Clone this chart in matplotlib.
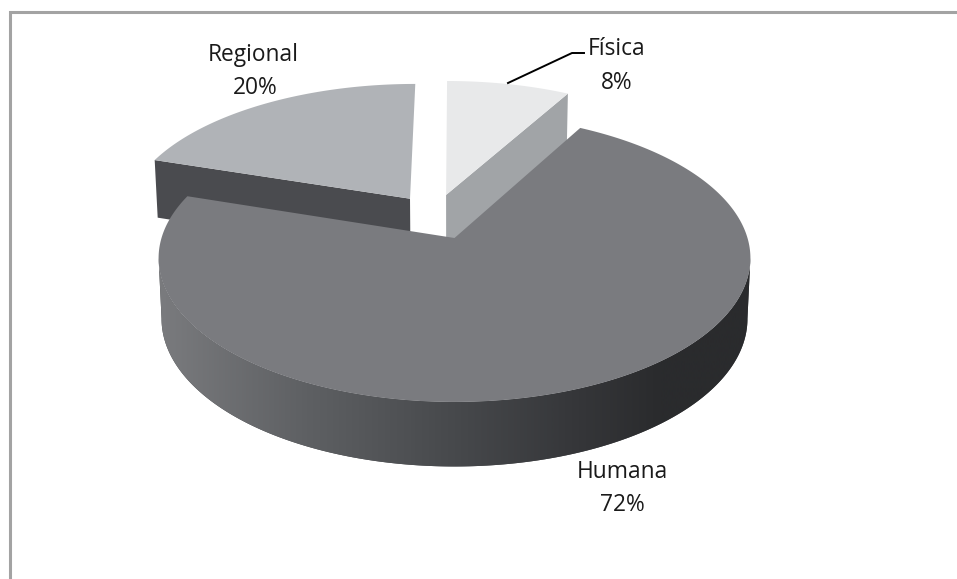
import numpy as np
import matplotlib
matplotlib.use("Agg")
import matplotlib.pyplot as plt
from matplotlib.colors import LinearSegmentedColormap

plt.rcParams['font.family'] = ['Open Sans', 'DejaVu Sans']

labels = ['Física', 'Humana', 'Regional']
shares = [8, 72, 20]

top_colors = ['#e8e9ea', '#7a7b7f', '#b0b3b7']
face_colors = ['#a1a4a7', None, '#4a4b4f']
# explosion of each slice in pie radii (sideways, backwards)
offsets = [(-0.03, 0.319), (0.0, 0.0), (-0.158, 0.29)]

CX, CY = 454.5, 238
RX, RY = 293, 141
PERSP = 0.14
DEPTH = 60
TAPER = 0.99

wall_cmap = LinearSegmentedColormap.from_list(
    'wall', [(0.0, '#7a7b7e'), (0.24, '#5f6164'), (0.5, '#47494c'),
             (0.7, '#36373a'), (0.85, '#2a2b2d'), (1.0, '#2a2b2d')])


def project(u, v):
    s = 1 / (1 + PERSP * v)
    return CX + RX * u * s, CY - RY * v * s


def drop(v):
    return DEPTH / (1 + 0.07 * v)


def taper(x):
    return CX + (x - CX) * TAPER


def slice_outline(start, stop, off):
    theta = np.radians(np.linspace(start, stop, 300))
    return off[0] + np.sin(theta), off[1] + np.cos(theta)


fig = plt.figure(figsize=(9.57, 5.79), dpi=100)
ax = fig.add_axes([0, 0, 1, 1])
ax.set_xlim(0, 957)
ax.set_ylim(579, 0)
ax.axis('off')

# frame of the chart area, only left and top are visible in the scan
ax.plot([9.5, 9.5, 957], [579, 11.5, 11.5], color='#a3a3a3', lw=2.2, solid_joinstyle='miter')

edges = np.cumsum([0] + shares) / sum(shares) * 360

# back slices first, the big one covers them
for i in [2, 0]:
    start, stop = edges[i], edges[i + 1]
    off = offsets[i]
    u, v = slice_outline(start, stop, off)
    x, y = project(u, v)
    ax_, ay = project(off[0], off[1])
    # flat cut face that looks to the viewer
    k = 0 if i == 2 else -1
    fx = [ax_, x[k], taper(x[k]), taper(ax_)]
    fy = [ay, y[k], y[k] + drop(v[k]), ay + drop(off[1])]
    ax.fill(fx, fy, color=face_colors[i], lw=0)
    ax.fill(np.r_[ax_, x], np.r_[ay, y], color=top_colors[i], lw=0)

# outer wall of Humana, shaded from left to right and clipped to the rim
u, v = slice_outline(70, 290, offsets[1])
x, y = project(u, v)
low_x, low_y = taper(x), y + drop(v)
right, left = np.argmax(x), np.argmin(x)
low_right, low_left = np.argmax(low_x), np.argmin(low_x)
rim_x = np.r_[x[right:left + 1], low_x[low_right:low_left + 1][::-1]]
rim_y = np.r_[y[right:left + 1], low_y[low_right:low_left + 1][::-1]]
rim = ax.fill(rim_x, rim_y, color='#47494c', lw=0, zorder=1)[0]
gradient = ax.imshow(np.linspace(0, 1, 600).reshape(1, -1), cmap=wall_cmap, aspect='auto',
                     extent=[158, 751, 579, 0], interpolation='bilinear', zorder=2)
gradient.set_clip_path(rim)
ax.set_xlim(0, 957)
ax.set_ylim(579, 0)

u, v = slice_outline(edges[1], edges[2], offsets[1])
x, y = project(u, v)
ax_, ay = project(*offsets[1])
ax.fill(np.r_[ax_, x], np.r_[ay, y], color=top_colors[1], lw=0, zorder=3)

# data labels
text_style = dict(ha='center', va='baseline', fontsize=16.4, color='#1a1a1a', zorder=4)
ax.text(253.5, 61, labels[2], **text_style)
ax.text(255, 94, f'{shares[2]}%', **text_style)
ax.text(622, 478, labels[1], **text_style)
ax.text(622, 511, f'{shares[1]}%', **text_style)
ax.text(616.5, 55, labels[0], **text_style)
ax.text(617, 89, f'{shares[0]}%', **text_style)
ax.plot([508, 572, 584], [83, 53, 53], color='black', lw=1.4, zorder=4)

fig.savefig('out.png', dpi=100)
